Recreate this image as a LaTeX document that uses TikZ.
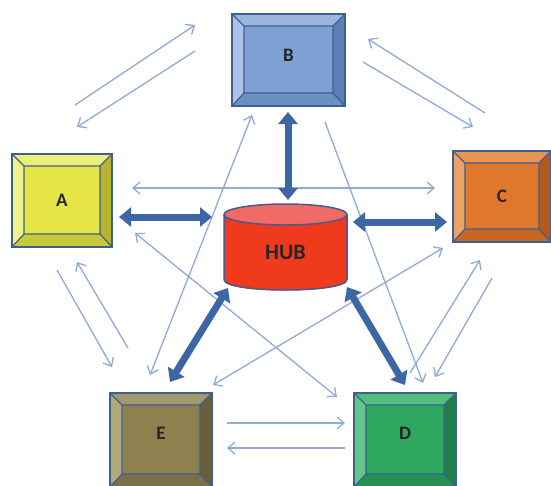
\documentclass[tikz,border=0pt]{standalone}
\usepackage{fontspec}
\setmainfont{Carlito}
\usetikzlibrary{arrows.meta}
\definecolor{frameblue}{HTML}{3D5F91}
\definecolor{aface}{HTML}{E5E545}\definecolor{atop}{HTML}{EDEE78}\definecolor{aleft}{HTML}{F2F28A}\definecolor{aright}{HTML}{B5B532}\definecolor{abot}{HTML}{C9C93E}
\definecolor{bface}{HTML}{7FA0D2}\definecolor{btop}{HTML}{9DB6DE}\definecolor{bleft}{HTML}{ABC2E6}\definecolor{bright}{HTML}{5B80B6}\definecolor{bbot}{HTML}{6C8EC2}
\definecolor{cface}{HTML}{E1772B}\definecolor{ctop}{HTML}{E9944F}\definecolor{cleft}{HTML}{EBA264}\definecolor{cright}{HTML}{B55A1E}\definecolor{cbot}{HTML}{C66723}
\definecolor{dface}{HTML}{2FA85F}\definecolor{dtop}{HTML}{52BE7D}\definecolor{dleft}{HTML}{63C78B}\definecolor{dright}{HTML}{1F7F48}\definecolor{dbot}{HTML}{268F52}
\definecolor{eface}{HTML}{8D8150}\definecolor{etop}{HTML}{A29A6A}\definecolor{eleft}{HTML}{B1A97A}\definecolor{eright}{HTML}{6A6038}\definecolor{ebot}{HTML}{7A7049}
\definecolor{hubred}{HTML}{F03A1E}\definecolor{hubtop}{HTML}{F26A66}\definecolor{hubline}{HTML}{4A5A8C}
\definecolor{thinblue}{HTML}{8FABD6}\definecolor{thickblue}{HTML}{3D67A4}
\tikzset{
  bevelbox/.style n args={5}{rectangle, draw=frameblue, line width=2.6pt, fill=#1,
    font=\bfseries\fontsize{19}{19}\selectfont, text=black!85,
    path picture={
      \path (path picture bounding box.north west) coordinate (pNW)
            (path picture bounding box.north east) coordinate (pNE)
            (path picture bounding box.south west) coordinate (pSW)
            (path picture bounding box.south east) coordinate (pSE);
      \path ([shift={(12,12)}]pNW) coordinate (iNW)
            ([shift={(-12,12)}]pNE) coordinate (iNE)
            ([shift={(12,-13)}]pSW) coordinate (iSW)
            ([shift={(-12,-13)}]pSE) coordinate (iSE);
      \fill[#2] (pNW) -- (pNE) -- (iNE) -- (iNW) -- cycle;
      \fill[#3] (pNW) -- (iNW) -- (iSW) -- (pSW) -- cycle;
      \fill[#4] (pNE) -- (pSE) -- (iSE) -- (iNE) -- cycle;
      \fill[#5] (pSW) -- (iSW) -- (iSE) -- (pSE) -- cycle;
      \draw[frameblue, line width=1.2pt] (iNW) rectangle (iSE)
            (pNW) -- (iNW) (pNE) -- (iNE) (pSW) -- (iSW) (pSE) -- (iSE);
    }},
  thinline/.style={draw=thinblue, line width=1.3pt},
  thinone/.style={thinline, -{Straight Barb[length=7pt,width=12pt]}},
  thintwo/.style={thinline, {Straight Barb[length=7pt,width=12pt]}-{Straight Barb[length=7pt,width=12pt]}},
  bigarrow/.style={draw=thickblue, line width=7pt, {Triangle[length=12pt,width=19pt]}-{Triangle[length=12pt,width=19pt]}},
  hubnode/.style={rectangle, draw=none, minimum width=123pt, minimum height=86pt,
    font=\bfseries\fontsize{22}{22}\selectfont, text=black!85, text height=26pt}
}
\begin{document}
\begin{tikzpicture}[x=1pt,y=-1pt]
\useasboundingbox (0,0) rectangle (551,485);
\fill[white] (0,0) rectangle (551,485);
% hub cylinder
\fill[hubred] (224,214.5) rectangle (347,279.5);
\fill[hubred] (224,279.5) .. controls (224,293.5) and (347,293.5) .. (347,279.5) -- cycle;
\draw[hubline, line width=1.5pt] (224,214.5) -- (224,279.5) .. controls (224,293.5) and (347,293.5) .. (347,279.5) -- (347,214.5);
\filldraw[fill=hubtop, draw=hubline, line width=1.5pt] (285.5,214.5) ellipse [x radius=61.5, y radius=10.5];
% boxes
\node[bevelbox={aface}{atop}{aleft}{aright}{abot}, minimum width=100pt, minimum height=93pt] (A) at (62,200.5) {A};
\node[bevelbox={bface}{btop}{bleft}{bright}{bbot}, minimum width=113pt, minimum height=92pt, text depth=10pt] (B) at (288.5,60) {B};
\node[bevelbox={cface}{ctop}{cleft}{cright}{cbot}, minimum width=98pt, minimum height=91pt] (C) at (502,196.5) {C};
\node[bevelbox={dface}{dtop}{dleft}{dright}{dbot}, minimum width=102pt, minimum height=94pt, text depth=14pt] (D) at (405,440) {D};
\node[bevelbox={eface}{etop}{eleft}{eright}{ebot}, minimum width=102pt, minimum height=94pt, text depth=14pt] (E) at (161,440) {E};
\node[hubnode] (H) at (285.5,247) {HUB};
% thin arrows between neighbours
\draw[thinone] ([shift={(13,-95.5)}]A.center) -- ([shift={(-93.5,-35)}]B.center);
\draw[thinone] ([shift={(-93.5,-9)}]B.center) -- ([shift={(15,-73.5)}]A.center);
\draw[thinone] ([shift={(-17,-83.5)}]C.center) -- ([shift={(79.5,-21)}]B.center);
\draw[thinone] ([shift={(74.5,2)}]B.center) -- ([shift={(-29,-69.5)}]C.center);
\draw[thinone] ([shift={(5,-67)}]D.center) -- ([shift={(-22,63.5)}]C.center);
\draw[thinone] ([shift={(-10,81.5)}]C.center) -- ([shift={(30,-63)}]D.center);
\draw[thinone] ([shift={(66,-17)}]E.center) -- ([shift={(-60,-17)}]D.center);
\draw[thinone] ([shift={(-60,8)}]D.center) -- ([shift={(66,8)}]E.center);
\draw[thinone] ([shift={(-5,69.5)}]A.center) -- ([shift={(-49,-73)}]E.center);
\draw[thinone] ([shift={(-33,-92)}]E.center) -- ([shift={(15,61.5)}]A.center);
% thin cross arrows
\draw[thintwo] ([shift={(70,-12.5)}]A.center) -- ([shift={(-67,-8.5)}]C.center);
\draw[thintwo] ([shift={(73,32.5)}]A.center) -- ([shift={(-68,-43)}]D.center);
\draw[thintwo] ([shift={(-36.5,55)}]B.center) -- ([shift={(-11,-65)}]E.center);
\draw[thinone] ([shift={(36.5,62)}]B.center) -- ([shift={(18,-57)}]D.center);
\draw[thintwo] ([shift={(-59,51.5)}]C.center) -- ([shift={(52,-55)}]E.center);
% thick arrows to hub
\draw[bigarrow] ([shift={(57,16.5)}]A.center) -- ([shift={(-73.5,-30)}]H.center);
\draw[bigarrow] ([shift={(67.5,-25)}]H.center) -- ([shift={(-55,25.5)}]C.center);
\draw[bigarrow] ([shift={(-0.5,52)}]B.center) -- ([shift={(2.5,-47)}]H.center);
\draw[bigarrow] ([shift={(-57.5,41)}]H.center) -- ([shift={(9,-58)}]E.center);
\draw[bigarrow] ([shift={(61.5,40)}]H.center) -- ([shift={(0,-55)}]D.center);
\end{tikzpicture}
\end{document}
